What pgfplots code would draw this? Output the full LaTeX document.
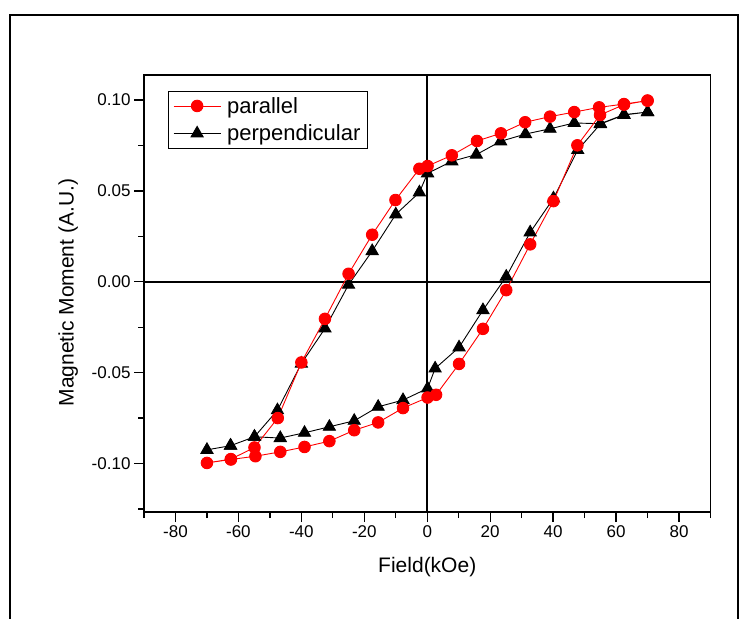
\documentclass[border=0pt]{standalone}
\usepackage{pgfplots}
\pgfplotsset{compat=1.18}
\usepackage{fontspec}
\setmainfont{Liberation Sans}
\definecolor{pred}{RGB}{255,0,0}
\begin{document}
\begin{tikzpicture}[x=1pt,y=1pt]
\path[use as bounding box] (0,0) rectangle (740,-619);
\draw[line width=2pt] (10,-700) -- (10,-15) -- (738,-15) -- (738,-700);
\begin{axis}[
  at={(144pt,-512pt)}, anchor=south west,
  scale only axis, width=566.5pt, height=437pt,
  xmin=-90, xmax=90, ymin=-0.1267, ymax=0.1138,
  xtick={-80,-60,...,80}, minor xtick={-90,-70,...,90},
  ytick={-0.10,-0.05,0,0.05,0.10}, minor ytick={-0.125,-0.075,-0.025,0.025,0.075},
  tick align=outside, tick pos=left,
  major tick length=10pt, minor tick length=6pt,
  every tick/.style={black, line width=1.3pt},
  axis line style={line width=1.6pt},
  /pgf/number format/assume math mode=true,
  yticklabel style={/pgf/number format/fixed, /pgf/number format/fixed zerofill, /pgf/number format/precision=2},
  tick label style={font=\fontsize{17}{20}\selectfont},
  xlabel={Field(kOe)}, ylabel={Magnetic Moment (A.U.)},
  label style={font=\fontsize{21}{25}\selectfont},
  xlabel style={at={(axis description cs:0.5,-0.126)}, anchor=center},
  ylabel style={at={(axis description cs:-0.1336,0.502)}, anchor=center},
  legend cell align=left,
  legend style={at={(axis description cs:0.0418,0.964)}, anchor=north west, draw=black, line width=1pt,
    font=\fontsize{22}{26}\selectfont, inner xsep=5pt, inner ysep=4pt, row sep=6pt, column sep=4pt},
  legend image code/.code={\draw[mark repeat=2,mark phase=2,#1] plot coordinates {(0pt,0pt) (23.5pt,0pt) (47pt,0pt)};},
  reverse legend,
]
\addplot[black, line width=1.8pt, forget plot] coordinates {(-90,0) (90,0)};
\addplot[black, line width=1.8pt, forget plot] coordinates {(0,-0.1267) (0,0.1138)};
\addplot[black, line width=0.9pt, mark=triangle*, mark size=7pt, mark options={solid, fill=black}] coordinates {
(70,0.0934) (62.5,0.0920) (55.0,0.0870) (46.7,0.0874) (39.0,0.0842) (31.2,0.0813) (23.3,0.0773) (15.6,0.0700) (7.8,0.0663) (0.1,0.0597)
(-2.5,0.0492) (-10.0,0.0371) (-17.5,0.0169) (-25.0,-0.0016) (-32.5,-0.0257) (-40.0,-0.0450) (-47.6,-0.0707) (-54.9,-0.0853) (-62.5,-0.0902) (-70.0,-0.0925)
(-62.5,-0.0902) (-54.9,-0.0853) (-46.7,-0.0860) (-39.0,-0.0831) (-31.1,-0.0798) (-23.2,-0.0765) (-15.6,-0.0688) (-7.7,-0.0651) (0.1,-0.0587)
(2.5,-0.0477) (10.1,-0.0361) (17.7,-0.0156) (25.1,0.0028) (32.7,0.0272) (40.1,0.0459) (47.8,0.0725) (55.0,0.0868) (62.5,0.0918) (70.0,0.0934)
};
\addlegendentry{perpendicular}
\addplot[pred, line width=0.9pt, mark=*, mark size=5.8pt, mark options={solid, fill=pred, draw=pred}] coordinates {
(70,0.0997) (62.5,0.0978) (54.6,0.0960) (46.7,0.0934) (39.0,0.0909) (31.1,0.0878) (23.4,0.0817) (15.8,0.0775) (7.8,0.0696) (0.1,0.0637)
(-2.5,0.0622) (-10.1,0.0450) (-17.5,0.0259) (-25.0,0.0044) (-32.5,-0.0204) (-40.0,-0.0444) (-47.5,-0.0750) (-54.9,-0.0912) (-62.4,-0.0976) (-70.0,-0.0997)
(-62.4,-0.0978) (-54.6,-0.0960) (-46.7,-0.0936) (-39.0,-0.0909) (-31.1,-0.0877) (-23.2,-0.0817) (-15.6,-0.0774) (-7.7,-0.0695) (0.1,-0.0637)
(2.8,-0.0622) (10.1,-0.0452) (17.7,-0.0259) (25.1,-0.0046) (32.7,0.0206) (40.1,0.0444) (47.7,0.0751) (54.9,0.0918) (62.5,0.0975) (70.0,0.0997)
};
\addlegendentry{parallel}
\end{axis}
\end{tikzpicture}
\end{document}
